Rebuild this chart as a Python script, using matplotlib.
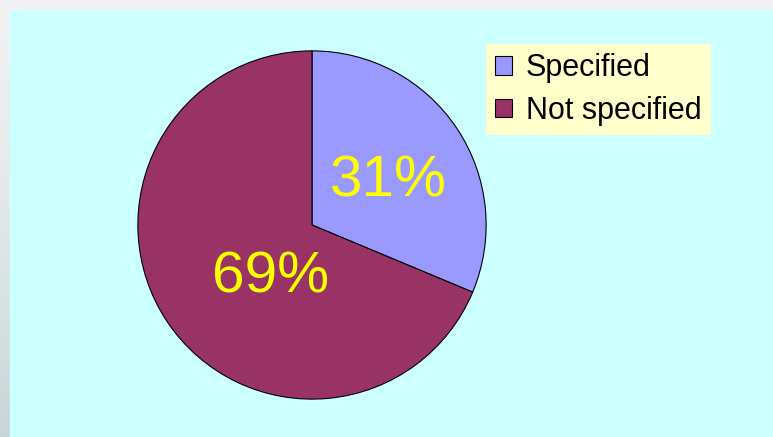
import numpy as np
import matplotlib.pyplot as plt
from matplotlib.patches import Patch, Rectangle

labels = ["Specified", "Not specified"]
values = [31.3, 68.7]
colors = ["#9999FF", "#993366"]

W, H = 773, 437
fig = plt.figure(figsize=(W / 100, H / 100), dpi=100)
plt.rcParams["font.family"] = ["Liberation Sans", "DejaVu Sans"]

# backdrop: light grey gradient, then the cyan panel
bg = fig.add_axes([0, 0, 1, 1])
grad = np.linspace(0, 1, 100).reshape(-1, 1)
top = np.array([0.937, 0.945, 0.953])
bottom = np.array([0.78, 0.84, 0.84])
img = top + (bottom - top) * grad[..., None] ** 1.5
bg.imshow(img, aspect="auto", extent=[0, 1, 0, 1])
bg.add_patch(Rectangle((10 / W, 0), 1, 1 - 10 / H, color="#CCFFFF", transform=bg.transAxes))
bg.set_xlim(0, 1)
bg.set_ylim(0, 1)
bg.axis("off")

# pie
cx, cy, r = 312, 225, 175
ax = fig.add_axes([(cx - r) / W, (H - cy - r) / H, 2 * r / W, 2 * r / H])
wedges, texts, autotexts = ax.pie(
    values, colors=colors, startangle=90, counterclock=False,
    autopct="%.0f%%", pctdistance=0.5,
    wedgeprops=dict(edgecolor="black", linewidth=0.8),
    textprops=dict(color="#FFFF00", fontsize=42),
)
autotexts[0].set_position((0.44, 0.25))
autotexts[1].set_position((-0.24, -0.30))
ax.set_xlim(-1.005, 1.005)
ax.set_ylim(-1.005, 1.005)
ax.set_aspect("equal")

handles = [Patch(facecolor=c, edgecolor="black", linewidth=0.8) for c in colors]
leg = fig.legend(
    handles, labels, loc="upper left", bbox_to_anchor=(486 / W, 1 - 44 / H),
    fontsize=22, frameon=True, fancybox=False, borderpad=0.3,
    handlelength=0.55, handleheight=0.55, handletextpad=0.45, labelspacing=0.42,
    borderaxespad=0,
)
leg.get_frame().set_facecolor("#FFFFCC")
leg.get_frame().set_edgecolor("none")
leg.get_frame().set_alpha(1)

fig.savefig("out.png", dpi=100)
